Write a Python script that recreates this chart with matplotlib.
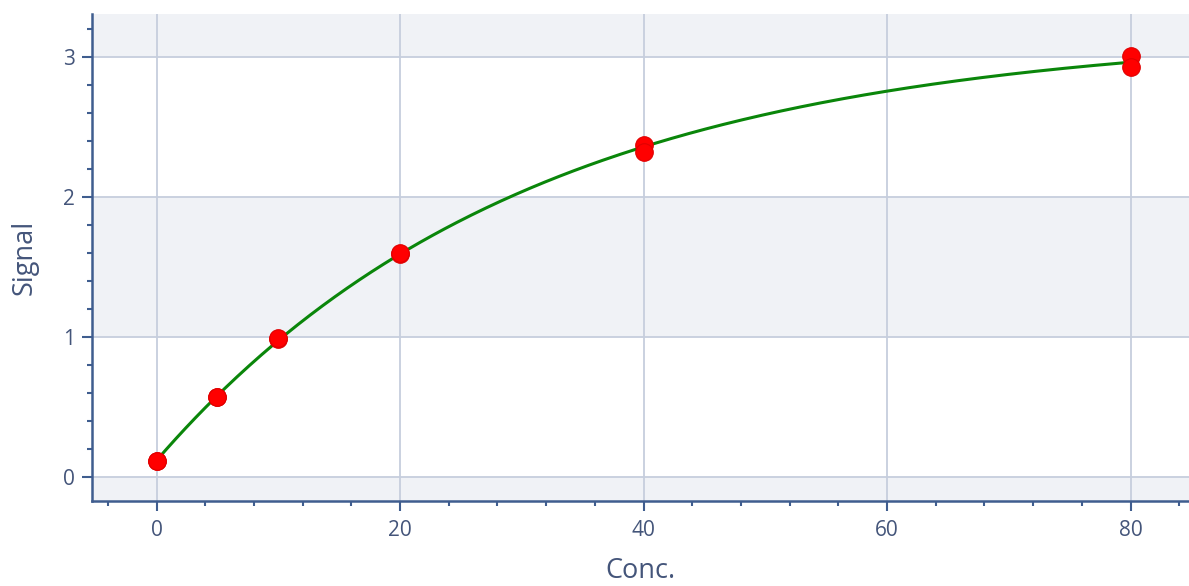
import numpy as np
import matplotlib
matplotlib.use("Agg")
import matplotlib.pyplot as plt
from matplotlib.ticker import MultipleLocator

# Data
conc = [0, 0, 5, 5, 10, 10, 20, 20, 40, 40, 80, 80]
signal = [0.116, 0.118, 0.571, 0.575, 0.985, 0.992, 1.595, 1.598, 2.372, 2.322, 3.009, 2.925]

x_ticks = [0, 20, 40, 60, 80]
y_ticks = [0, 1, 2, 3]

# Fit exponential-rise model  y = A - (A - B) * exp(-k x) to the data points
xa = np.array(conc, float)
ya = np.array(signal, float)
best = None
for k in np.linspace(0.005, 0.1, 2000):
    M = np.column_stack([np.ones_like(xa), np.exp(-k * xa)])
    coef, *_ = np.linalg.lstsq(M, ya, rcond=None)
    r = np.sum((M @ coef - ya) ** 2)
    if best is None or r < best[0]:
        best = (r, k, coef)
_, k_fit, (c0, c1) = best
xf = np.linspace(0, 80, 400)
yf = c0 + c1 * np.exp(-k_fit * xf)

spine_c = "#3f5d8f"
text_c = "#44557a"
grid_c = "#c6cedd"
band_c = "#f0f2f6"

plt.rcParams['font.family'] = ['Open Sans', 'DejaVu Sans']

fig = plt.figure(figsize=(11.89, 5.86), dpi=100)
ax = fig.add_axes([92 / 1189, 85 / 586, 1 - 92 / 1189, (501 - 14) / 586])
ax.set_xlim(-5.3, 84.8)
ax.set_ylim(-0.171, 3.307)

# alternating bands
ax.set_facecolor("white")
for lo, hi in [(-1, 0), (1, 2), (3, 4)]:
    ax.axhspan(lo, hi, color=band_c, zorder=0, lw=0)

ax.set_xticks(x_ticks)
ax.set_yticks(y_ticks)
ax.xaxis.set_minor_locator(MultipleLocator(4))
ax.yaxis.set_minor_locator(MultipleLocator(0.2))
ax.grid(True, which="major", color=grid_c, lw=1.3, zorder=1)
ax.set_axisbelow(True)

for s in ["top", "right"]:
    ax.spines[s].set_visible(False)
for s in ["left", "bottom"]:
    ax.spines[s].set_color(spine_c)
    ax.spines[s].set_linewidth(1.8)

ax.tick_params(which="major", length=7.5, width=1.5, color=spine_c, labelcolor=text_c,
               labelsize=15)
ax.tick_params(axis="x", which="major", pad=6)
ax.tick_params(axis="y", which="major", pad=5)
ax.tick_params(which="minor", length=3.5, width=1.5, color=spine_c)

ax.plot(xf, yf, color="#0a860a", lw=2.2, zorder=3)
ax.scatter(conc, signal, s=160, color="#ff0000", edgecolors="#e00000", linewidths=0.8, zorder=4)

ax.set_xlabel("Conc.", fontsize=19.5, color=text_c, labelpad=12)
ax.set_ylabel("Signal", fontsize=19.5, color=text_c, labelpad=17)

fig.savefig("out.png", dpi=100)
